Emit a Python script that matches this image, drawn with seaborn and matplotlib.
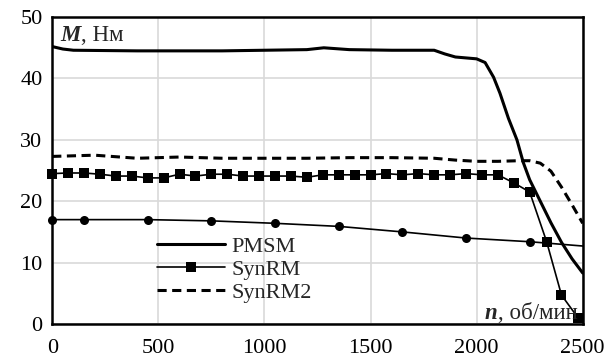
import numpy as np
import pandas as pd
import matplotlib
matplotlib.use('Agg')
import matplotlib.pyplot as plt
import seaborn as sns
from matplotlib.offsetbox import TextArea, HPacker, AnchoredOffsetbox

# --- data (n in rpm, M in N*m) ---
pmsm_n = [0, 50, 100, 400, 600, 800, 1000, 1200, 1280, 1400, 1600, 1800, 1850, 1900,
          2000, 2040, 2080, 2110, 2150, 2190, 2220, 2250, 2300, 2350, 2400, 2450, 2500]
pmsm_m = [45.2, 44.8, 44.6, 44.5, 44.5, 44.5, 44.6, 44.7, 45.0, 44.7, 44.6, 44.6, 44.0, 43.5,
          43.2, 42.6, 40.2, 37.6, 33.5, 30.0, 26.3, 23.5, 20.0, 16.5, 13.3, 10.6, 8.3]

synrm_n = [0, 75, 150, 225, 300, 375, 450, 525, 600, 675, 750, 825, 900, 975, 1050, 1125,
           1200, 1275, 1350, 1425, 1500, 1575, 1650, 1725, 1800, 1875, 1950, 2025, 2100,
           2175, 2250, 2330, 2400, 2480]
synrm_m = [24.5, 24.6, 24.6, 24.4, 24.1, 24.1, 23.8, 23.8, 24.4, 24.1, 24.4, 24.4, 24.1, 24.1,
           24.1, 24.1, 23.9, 24.3, 24.3, 24.3, 24.3, 24.5, 24.3, 24.5, 24.3, 24.3, 24.5, 24.3,
           24.3, 23.0, 21.5, 13.4, 4.7, 0.9]

synrm2_n = [0, 200, 400, 600, 800, 1000, 1200, 1400, 1600, 1800, 1900, 2000, 2100, 2200,
            2250, 2300, 2350, 2400, 2450, 2500]
synrm2_m = [27.3, 27.5, 27.0, 27.2, 27.0, 27.0, 27.0, 27.1, 27.1, 27.0, 26.7, 26.5, 26.5, 26.6,
            26.6, 26.2, 24.9, 22.3, 19.4, 16.4]

circ_n = [0, 150, 450, 750, 1050, 1350, 1650, 1950, 2250, 2500]
circ_m = [17.0, 17.0, 17.0, 16.8, 16.4, 15.9, 15.0, 14.0, 13.4, 12.7]

x_ticks = [0, 500, 1000, 1500, 2000, 2500]
y_ticks = [0, 10, 20, 30, 40, 50]

sns.set_style('whitegrid')
plt.rcParams['font.family'] = ['Liberation Serif', 'DejaVu Serif']

fig = plt.figure(figsize=(6.07, 3.64), dpi=100)
ax = fig.add_axes([0.086, 0.110, 0.874, 0.843])

df_p = pd.DataFrame({'n': pmsm_n, 'M': pmsm_m})
df_s = pd.DataFrame({'n': synrm_n, 'M': synrm_m})
df_s2 = pd.DataFrame({'n': synrm2_n, 'M': synrm2_m})
df_c = pd.DataFrame({'n': circ_n, 'M': circ_m})

sns.lineplot(data=df_p, x='n', y='M', ax=ax, color='black', lw=2.2, label='PMSM')
sns.lineplot(data=df_s, x='n', y='M', ax=ax, color='black', lw=1.2, marker='s',
             markersize=7, markeredgewidth=0, label='SynRM', clip_on=False)
sns.lineplot(data=df_s2, x='n', y='M', ax=ax, color='black', lw=2.2, dashes=False,
             label='SynRM2')
ax.lines[-1].set_dashes((3, 1.8))
sns.lineplot(data=df_c, x='n', y='M', ax=ax, color='black', lw=1.2, marker='o',
             markersize=6.5, markeredgewidth=0, markevery=list(range(len(circ_n) - 1)),
             legend=False, clip_on=False)

ax.set_xlim(0, 2500)
ax.set_ylim(0, 50)
ax.set_xticks(x_ticks)
ax.set_yticks(y_ticks)
ax.set_xlabel('')
ax.set_ylabel('')
ax.grid(True, color='#d9d9d9', lw=1.2)
ax.tick_params(axis='both', length=0, labelsize=16, colors='black')
ax.tick_params(axis='x', pad=11)
ax.tick_params(axis='y', pad=7)
for s in ax.spines.values():
    s.set_color('black')
    s.set_linewidth(1.8)
    s.set_visible(True)

leg = ax.legend(loc='upper left', bbox_to_anchor=(0.18, 0.315), frameon=False,
                fontsize=16, handlelength=3.1, handletextpad=0.25, labelspacing=0.12,
                borderaxespad=0)
for h in leg.get_lines():
    h.set_color('black')

def axis_label(main, rest, loc, anchor):
    a = TextArea(main, textprops=dict(fontsize=16.5, fontweight='bold', fontstyle='italic'))
    b = TextArea(rest, textprops=dict(fontsize=16.5))
    box = HPacker(children=[a, b], align='baseline', pad=0, sep=0)
    ab = AnchoredOffsetbox(loc=loc, child=box, frameon=False, pad=0, borderpad=0,
                           bbox_to_anchor=anchor, bbox_transform=ax.transAxes)
    ax.add_artist(ab)

axis_label('M', ', Нм', 'upper left', (0.015, 0.975))
axis_label('n', ', об/мин', 'lower right', (0.99, 0.0))

fig.savefig('out.png', dpi=100)
